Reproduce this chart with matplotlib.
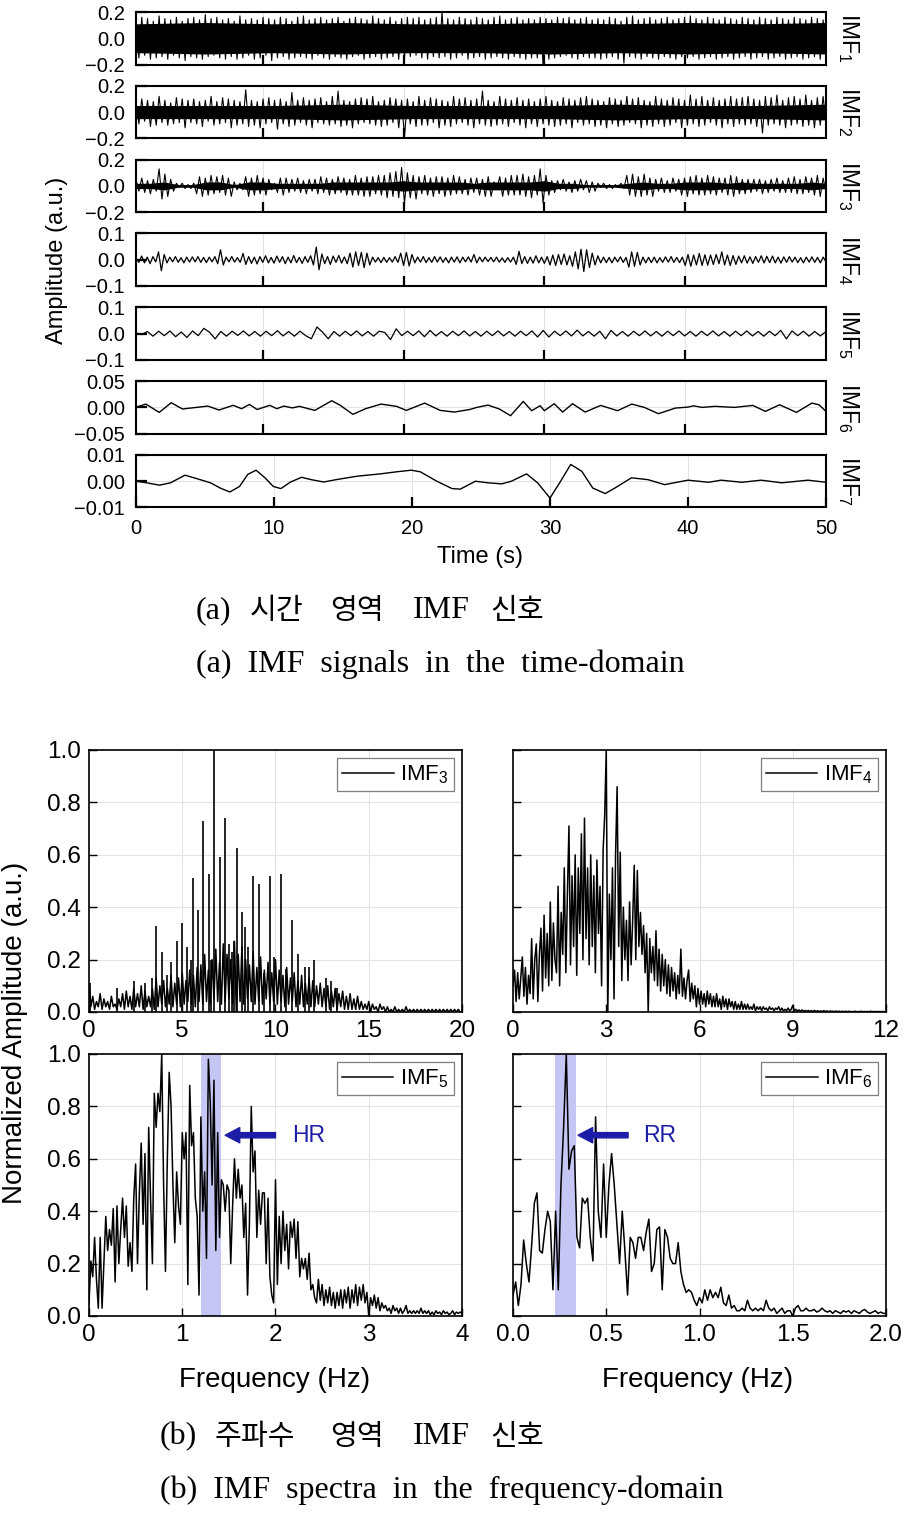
import numpy as np
import matplotlib.pyplot as plt

plt.rcParams['font.family'] = ['Liberation Sans', 'DejaVu Sans']
plt.rcParams['mathtext.fontset'] = 'custom'
plt.rcParams['mathtext.rm'] = 'Liberation Sans'
plt.rcParams['mathtext.it'] = 'Liberation Sans:italic'

W, H = 912, 1513

# ============================================================
# (a) TIME-DOMAIN IMF SIGNALS
# ============================================================
# dense IMFs: solid core half-width + fringe of hairs, both in units of 0.01
imf1_core = [11, 12, 11, 12, 11, 11, 12, 11, 12, 11, 12]
imf1_hair = [
    14, -15, 16, -13, 15, -16, 13, -15, 17, -14, 15, -16, 14, -13, 16, -15, 13, -17, 15, -14,
    16, -15, 14, -16, 18, -14, 15, -13, 16, -15, 14, -16, 15, -14, 13, -16, 17, -15, 14, -13,
    15, -16, 14, -15, 16, -13, 15, -17, 14, -15, 16, -14, 15, -16, 13, -15, 16, -14, 17, -15,
    14, -16, 15, -13, 16, -15, 14, -16, 15, -14, 16, -15, 13, -16, 15, -14, 16, -13, 15, -16,
    14, -15, 17, -14, 15, -16, 14, -15, 16, -14, 13, -16, 15, -15, 16, -14, 15, -13, 16, -15,
    14, -16, 15, -14, 16, -15, 20, -14, 15, -16, 14, -15, 16, -13, 15, -16, 14, -15, 16, -14,
    15, -16, 14, -15, 16, -14, 17, -15, 14, -16, 15, -14, 16, -15, 14, -16, 15, -15, 14, -15,
    16, -20, 15, -16, 14, -15, 16, -14, 15, -13, 16, -15, 14, -16, 15, -14, 16, -15, 14, -15,
    15, -16, 14, -15, 16, -14, 15, -16, 13, -19, 16, -14, 17, -15, 14, -16, 15, -14, 16, -15,
    14, -16, 15, -14, 16, -15, 14, -16, 15, -14, 16, -15, 17, -14, 15, -16, 14, -15, 16, -14,
    15, -16, 14, -15, 16, -14, 15, -16, 14, -15, 16, -14, 15, -16, 14, -15, 16, -14, 15, -16,
    14, -15, 16, -14, 15, -16, 14, -15, 16, -14, 15, -16, 14, -15, 16, -14, 15, -16, 14, -15]

imf2_core = [5, 5, 5, 6, 5, 5, 5, 6, 5, 5, 6]
imf2_hair = [
    8, -9, 10, -7, 9, -11, 8, -10, 12, -8, 9, -10, 7, -9, 11, -8, 10, -12, 9, -8,
    10, -9, 8, -11, 9, -7, 12, -10, 8, -9, 11, -8, 10, -12, 9, -10, 8, -9, 17, -11,
    9, -10, 8, -12, 10, -9, 11, -8, 9, -13, 10, -9, 8, -11, 15, -10, 9, -8, 11, -10,
    9, -12, 10, -8, 11, -9, 8, -10, 12, -9, 16, -11, 9, -10, 8, -12, 10, -9, 11, -8,
    10, -9, 12, -10, 8, -11, 9, -10, 11, -8, 10, -12, 9, -19, 10, -9, 8, -11, 12, -10,
    9, -10, 11, -8, 10, -12, 9, -10, 8, -11, 12, -9, 10, -8, 11, -10, 9, -12, 10, -9,
    16, -10, 9, -11, 8, -10, 12, -9, 10, -11, 9, -8, 11, -10, 9, -12, 10, -9, 8, -11,
    10, -9, 12, -10, 9, -11, 8, -10, 11, -9, 10, -12, 9, -8, 11, -10, 12, -9, 10, -11,
    9, -10, 8, -12, 11, -9, 10, -11, 9, -10, 12, -8, 10, -9, 11, -12, 9, -10, 8, -11,
    12, -9, 10, -11, 9, -10, 11, -8, 10, -12, 9, -10, 13, -9, 10, -11, 12, -10, 9, -8,
    11, -10, 9, -12, 10, -9, 12, -11, 10, -9, 11, -10, 12, -9, 10, -11, 9, -16, 12, -10,
    11, -9, 13, -10, 9, -12, 11, -10, 12, -9, 10, -11, 13, -10, 9, -12, 11, -10, 12, -9]

imf3_core = [2, 2, 3, 1, 1, 3, 3, 1, 3, 3, 2, 2, 2, 2, 3, 3, 3, 3, 3, 4, 3, 3, 3, 3, 2,
             3, 3, 3, 3, 4, 2, 2, 1, 1, 1, 2, 3, 2, 2, 3, 3, 3, 2, 3, 2, 2, 2, 2, 3, 2]
imf3_hair = [
    5, -4, 6, -5, 4, -6, 5, -4, 13, -10, 9, -8, 5, -4, 2, -1, 2, -2, 1, -2,
    2, -6, 7, -8, 6, -7, 8, -6, 7, -5, 8, -7, 6, -8, 3, -3, 2, -3, 7, -8,
    6, -7, 8, -6, 6, -7, 5, -3, 2, -5, 6, -7, 6, -5, 5, -4, 6, -5, 4, -6,
    5, -4, 5, -6, 7, -5, 6, -7, 5, -6, 7, -5, 6, -7, 5, -7, 8, -7, 6, -8,
    7, -8, 7, -6, 8, -7, 8, -9, 10, -8, 11, -9, 14, -13, 10, -9, 8, -10, 7, -6,
    8, -7, 6, -8, 7, -6, 7, -8, 6, -7, 8, -6, 7, -6, 5, -7, 6, -5, 6, -7, 5,
    -8, 7, -8, 3, -2, 7, -8, 6, -7, 8, -7, 8, -7, 9, -8, 7, -9, 8, -7, 13,
    -13, 8, -7, 4, -5, 4, -3, 5, -4, 3, -5, 4, -4, 5, -3, 4, -5, 3, -4, 2,
    -1, 2, -2, 1, -2, 1, -1, 2, -2, 8, -7, 9, -8, 7, -8, 9, -7, 6, -8, 5,
    -4, 6, -5, 4, -5, 6, -4, 5, -7, 6, -8, 7, -6, 8, -7, 6, -7, 8, -6, 7,
    -7, 6, -5, 6, -7, 8, -8, 7, -6, 5, -6, 5, -5, 5, -4, 5, -6, 4, -5, 5,
    -4, 6, -5, 4, -5, 6, -5, 7, -6, 5, -6, 7, -5, 6, -7, 8, -8, 6, -5]

# IMF4 / IMF5: successive extrema, units of 0.001
imf4_ext = [
    8, -10, 14, -12, 10, -15, 12, -8, 30, -42,
    20, -12, 10, -8, 12, -10, 8, -12, 10, -9, 11, -8, 12, -10, 9, -11, 10, -8, 12,
    -15, 38, -20, 10, -8, 12, -9, 8, -10, 24, -18,
    12, -14, 10, -16, 12, -10, 15, -12, 9, -13, 14, -10, 12, -15, 10, -12, 16, -11, 9, -14, 12, -10, 15,
    -20, 48, -38, 22, -15, 12, -18, 14, -10, 16, -13, 11, -15,
    25, -28, 30, -22, 28, -30, 25, -20, 10, -9, 8, -11, 9, -10, 8, -9, 12, -10,
    25, -22, 28, -24, 20,
    -12, 10, -9, 12, -11, 8, -10, 12, -9, 11, -10, 8, -12, 10, -9, 11, -12, 10, -8, 11, -9, 20, -12, 10,
    -8, 10, -7, 9, -8, 10, -9, 7, -10, 8, -9, 10, -18, 32,
    -15, 12, -14, 10, -13, 15, -12, 10, -14, 12, -20, 18, -22, 20, -18, 22, -20,
    15, -25, 30, -35, 40, -45, 38, -30, 25, -20, 15,
    -12, 10, -11, 9, -12, 10, -8, 11, -10, 9, -28, 30, -25, 28, -20,
    10, -12, 9, -11, 10, -12, 8, -10, 11, -9, 12, -10, 9, -11, 10,
    -22, 20, -25, 18, -20, 24, -22, 19, -21, 18, -18, 20, -15, 30, -20, 18, -22, 16, -18,
    14, -12, 15, -13, 11, -14, 12, -10, 15, -12, 13, -11, 14, -12, 10, -13,
    11, -10, 12, -9, 10, -11, 8, -12, 10, -9, 11, -10, 9, -12, 10, -8]

imf5_ext = [
    3, -4, 8, -10, 9, -8, 10, -12, 6, -15, 10, -8, 20, 5, -20,
    8, -10, 9, -7, 10, -9, 8, -10, 9, -8, 11, -9, 8, -10, 9, -8,
    -20, 25, 5, -20, 8, -10, 9, -8, 10, -9, 8, -10, 9, 4, -23, 18, -8,
    9, -8, 10, -12, 12, -9, 8, -10, 9, -8,
    10, -9, 8, -10, 9, -8, 10, -9, 8, -10, 9, -8, 10, -13, 12, -13,
    9, -8, 10, -9, 13, -9, 8, -10, 9, -20, 12,
    -9, 8, -10, 9, -8, 10, -9, 8, -10, 9, -8, 10, -9, 8, -10, 9, -8, 10, -9, 8,
    -10, 9, -8, 10, -9, 8, -10, 9, -8, 12, -20, 10, -8, 9, -10, 8, -9, 8]

# IMF6 / IMF7: read points (time s, value in units of 1e-4)
imf6_t = [0.95, 1.7, 2.65, 3.5, 4.3, 5.3, 6.1, 6.9, 7.9, 8.5, 9.05, 9.6, 10.5, 11.0, 11.5,
          12.1, 12.6, 13.7, 14.9, 15.5, 16.4, 17.3, 18.4, 19.5, 20.2, 21.5, 22.6, 23.6, 24.7,
          25.2, 26.0, 26.8, 27.6, 28.5, 29.1, 29.7, 30.0, 30.7, 31.3, 32.0, 32.9, 34.0, 35.2,
          36.2, 37.1, 38.1, 39.3, 40.2, 40.6, 41.2, 42.1, 43.5, 44.8, 45.7, 46.7, 47.9, 49.0,
          49.5, 50.0]
imf6_v = [0, 63, -95, 89, -30, 0, 25, -50, 40, -25, 57, -40, 40, -25, 25,
          -10, 20, -57, 127, 40, -133, -25, 63, 20, -57, 82, -57, -89, -40,
          0, 44, -30, -158, 114, -63, 32, -63, 70, -89, 70, -89, 38, -63,
          63, 0, -120, -13, 6, 30, 0, 20, 0, 38, -76, 50, -95, 82,
          50, -76]

imf7_t = [0, 0.77, 1.7, 2.5, 3.55, 4.4, 5.4, 6.1, 6.8, 7.5, 8.1, 8.7, 9.35, 9.95, 10.5,
          11.2, 12.0, 12.7, 13.6, 14.5, 16.0, 17.7, 18.9, 19.95, 20.6, 21.8, 22.9, 23.5,
          24.6, 25.5, 26.5, 27.2, 28.3, 29.1, 30.0, 30.7, 31.5, 32.3, 33.1, 34.0, 34.7,
          35.9, 37.1, 38.3, 40.0, 41.5, 42.4, 43.9, 45.3, 46.8, 48.7, 50.0]
imf7_v = [0, -6, -15, -6, 23, 10, -6, -26, -41, -20, 26, 42, 13, -20, -28,
          -3, 15, 6, -3, 6, 19, 28, 36, 42, 36, 0, -28, -30,
          0, -6, -10, 0, 28, -6, -64, -6, 64, 38, -26, -47, -26,
          13, 6, -13, 4, -4, 4, -4, 4, -6, 4, -4]

imf_lim = [0.2, 0.2, 0.2, 0.1, 0.1, 0.05, 0.01]
imf_ylabels = [['\u22120.2', '0.0', '0.2'], ['\u22120.2', '0.0', '0.2'], ['\u22120.2', '0.0', '0.2'],
               ['\u22120.1', '0.0', '0.1'], ['\u22120.1', '0.0', '0.1'],
               ['\u22120.05', '0.00', '0.05'], ['\u22120.01', '0.00', '0.01']]
time_ticks = [0, 10, 20, 30, 40, 50]

# ============================================================
# (b) FREQUENCY-DOMAIN SPECTRA  (normalized, units of 0.01)
# ============================================================
# IMF3: noise floor sampled every 0.1 Hz (0-20 Hz) + sharp lines
imf3_floor = [
    11, 2, 6, 1, 4, 2, 7, 1, 5, 2, 4, 1, 6, 2, 3, 1, 5, 2, 7, 1,
    8, 2, 6, 1, 9, 2, 7, 2, 10, 1, 8, 2, 6, 2, 9, 1, 13, 2, 10, 3,
    12, 2, 9, 3, 14, 2, 11, 3, 13, 2, 15, 3, 12, 4, 16, 3, 14, 2, 17, 4,
    18, 3, 22, 4, 16, 3, 20, 5, 24, 4, 19, 3, 26, 4, 22, 5, 20, 3, 27, 0,
    22, 4, 25, 3, 20, 5, 18, 4, 23, 3, 17, 4, 21, 3, 16, 5, 19, 3, 15, 4,
    20, 3, 16, 4, 14, 2, 17, 3, 13, 4, 15, 2, 12, 3, 14, 2, 11, 3, 13, 2,
    12, 2, 10, 3, 11, 2, 9, 2, 10, 1, 8, 2, 9, 1, 7, 2, 8, 1, 6, 1,
    7, 1, 5, 1, 6, 1, 4, 1, 3, 1, 4, 0, 3, 1, 2, 0, 3, 1, 2, 0,
    2, 0, 1, 0, 2, 0, 1, 0, 1, 0, 2, 0, 1, 0, 1, 0, 1, 0, 1, 0,
    1, 0, 1, 0, 1, 0, 1, 0, 1, 0, 1, 0, 1, 0, 1, 0, 1, 0, 1, 0, 0]
imf3_line_f = [0.03, 1.5, 2.4, 3.0, 3.4, 3.6, 3.9, 4.2, 4.4, 4.7, 5.0, 5.27, 5.45, 5.6, 5.84,
               6.13, 6.41, 6.55, 6.7, 7.0, 7.3, 7.5, 7.66, 7.8, 7.91, 8.21, 8.38, 8.5, 8.8,
               9.09, 9.4, 9.68, 9.9, 10.27, 10.55, 10.87, 11.2, 11.6, 11.8, 12.05, 12.7,
               13.0, 13.3]
imf3_line_h = [11, 9, 12, 11, 13, 33, 23, 14, 19, 27, 34, 25, 20, 51, 39,
               73, 52.5, 20, 100, 59, 74, 26, 23, 27, 62.5, 38, 32.5, 25, 52,
               49, 15, 52, 21, 52.5, 16.5, 35, 22, 17, 17, 20, 13,
               12, 9]

# IMF4: every 0.05 Hz, 0-12 Hz
imf4_spec = [
    10, 16, 4, 15, 5, 13, 21, 6, 17, 3, 14, 7, 28, 5, 20, 26, 4, 22, 32, 8,
    37, 13, 30, 10, 42, 12, 34, 20, 15, 48, 10, 38, 22, 55, 15, 45, 71, 18, 52, 25,
    60, 14, 55, 30, 68, 20, 74, 28, 55, 18, 60, 25, 52, 15, 58, 30, 48, 10, 62, 75,
    100, 0, 45, 20, 55, 5, 60, 86, 25, 61, 12, 40, 20, 35, 12, 42, 18, 35, 56, 20,
    54, 25, 38, 22, 33, 15, 30, 0, 28, 15, 25, 12, 31, 10, 24, 8, 22, 10, 20, 7,
    18, 6, 17, 8, 15, 5, 14, 7, 24, 6, 13, 5, 12, 16, 4, 11, 5, 10, 2, 9,
    3, 8, 3, 7, 2, 8, 3, 7, 2, 6, 2, 7, 2, 5, 1, 6, 2, 5, 1, 5,
    2, 4, 1, 4, 1, 3, 1, 4, 1, 3, 1, 3, 1, 2, 1, 3, 0.5, 2, 1, 2,
    0.5, 2, 1, 1.5, 0.5, 2, 1, 1.5, 0.5, 1.5, 1, 2, 0.5, 1.5, 0.5, 1, 0.5, 1.5, 0.5, 1,
    2.5, 0.5, 1, 0.3, 0.8, 0.3, 0.8, 0.3, 0.6, 0.2, 0.6, 0.2, 0.5, 0.2, 0.6, 0.2, 0.5, 0.2, 0.4, 0.2,
    0.5, 0.2, 0.4, 0.1, 0.4, 0.2, 0.3, 0.1, 0.4, 0.1, 0.3, 0.1, 0.3, 0.1, 0.3, 0.1, 0.3, 0.1, 0.2, 0.1,
    0.3, 0.1, 0.2, 0.1, 0.3, 0.1, 0.2, 0.1, 0.2, 0.1, 0.3, 0.1, 0.2, 0.1, 0.2, 0.1, 0.2, 0.1, 0.2, 0.1, 0.2]

# IMF5: every 0.02 Hz, 0-4 Hz
imf5_spec = [
    5, 21, 15, 30, 14, 3, 30, 3, 20, 38, 25, 33, 27, 41, 13, 42, 20, 33, 45, 30,
    42, 19, 28, 17, 45, 58, 20, 47, 66, 35, 62, 10, 72, 45, 20, 85, 72, 85, 78, 100,
    50, 17, 60, 93, 80, 50, 28, 55, 42, 35, 70, 60, 70, 12, 88, 65, 70, 45, 38, 8,
    76, 40, 55, 22, 98, 82, 50, 90, 25, 70, 30, 52, 50, 40, 50, 48, 20, 42, 60, 45,
    56, 45, 50, 30, 43, 8, 35, 80, 55, 63, 30, 48, 35, 47, 47, 20, 45, 15, 8, 5,
    52, 12, 38, 20, 40, 25, 35, 18, 36, 30, 37, 22, 36, 15, 22, 18, 22, 14, 24, 10,
    12, 7, 5, 14, 6, 12, 4, 10, 5, 11, 4, 9, 3, 9, 4, 10, 3, 10, 5, 11,
    3, 10, 5, 12, 4, 11, 6, 12, 5, 9, 0, 7, 4, 8, 3, 7, 2, 5, 3, 4,
    2, 3, 1, 4, 2, 3, 1, 3, 1, 2, 4, 1, 2, 1, 2, 1, 2, 1, 3, 1,
    2, 1, 2, 0.5, 1.5, 0.5, 2, 1, 1.5, 0.5, 2, 1, 1.5, 0.5, 1, 2, 0.5, 1.5, 1, 1.5, 1]

# IMF6: every 1/70 Hz, 0-2 Hz
imf6_spec = [
    8, 13, 4, 12, 29, 20, 13, 27, 43, 47, 25, 24, 33, 40, 36, 10, 40, 10, 50, 72,
    100, 56, 63, 65, 30, 26, 45, 43, 45, 30, 21, 76, 40, 30, 58, 30, 50, 62, 50, 35,
    20, 40, 25, 8, 30, 28, 22, 30, 30, 25, 32, 37, 17, 20, 33, 34, 10, 33, 30, 22,
    20, 20, 28, 17, 12, 9, 10, 9, 6, 4, 7, 5, 10, 6, 10, 7, 9, 7, 11, 5,
    4, 8, 3, 4, 2, 2, 3, 2, 6, 3, 2, 3, 2, 3, 2, 6, 3, 2, 3, 1,
    2, 3, 1, 2, 2, 0, 3, 4, 2, 2, 3, 2, 2, 2.5, 1.5, 2, 3, 2, 1.5, 2,
    1, 2, 1.5, 1, 2, 1.5, 2, 1, 2, 1.5, 1, 2, 2.5, 1.5, 1, 1.5, 2, 1, 1.5, 1, 1]

spec_names = ['IMF$_3$', 'IMF$_4$', 'IMF$_5$', 'IMF$_6$']
spec_fmax = [20, 12, 4, 2]
spec_xticks = [[0, 5, 10, 15, 20], [0, 3, 6, 9, 12], [0, 1, 2, 3, 4], [0, 0.5, 1.0, 1.5, 2.0]]
spec_xlabels = [['0', '5', '10', '15', '20'], ['0', '3', '6', '9', '12'],
                ['0', '1', '2', '3', '4'], ['0.0', '0.5', '1.0', '1.5', '2.0']]
amp_ticks = [0, 0.2, 0.4, 0.6, 0.8, 1.0]
amp_labels = ['0.0', '0.2', '0.4', '0.6', '0.8', '1.0']
hr_band = (1.2, 1.415)
rr_band = (0.2235, 0.336)

navy = '#1c1ca6'
band_c = '#c6c6f4'
grid_c = '#e3e3e3'

fig = plt.figure(figsize=(W / 100, H / 100), dpi=100)

# ------------------------------------------------------------
# time-domain stack
# ------------------------------------------------------------
for i in range(7):
    top = 12 + 73.83 * i
    ax = fig.add_axes([136 / W, 1 - (top + 52.5) / H, 690 / W, 52.5 / H])
    lim = imf_lim[i]
    if i < 6:
        ax.set_xlim(1, 50)
        ax.set_xticks([10, 20, 30, 40])
        ax.set_xticklabels([])
    else:
        ax.set_xlim(0, 50)
        ax.set_xticks(time_ticks)
    ax.set_ylim(-lim, lim)
    ax.set_yticks([-lim, 0, lim])
    ax.set_yticklabels(imf_ylabels[i])
    ax.tick_params(axis='x', direction='in', length=7, width=1.6, labelsize=14.5, pad=8,
                   top=False)
    ax.tick_params(axis='y', direction='in', length=8, width=1.6, labelsize=14.5, pad=8,
                   right=False)
    ax.grid(True, color=grid_c, lw=0.8)
    ax.set_axisbelow(True)
    for s in ax.spines.values():
        s.set_linewidth(1.5)
    ax.text(1.033, 0.5, 'IMF$_{%d}$' % (i + 1), transform=ax.transAxes, rotation=270,
            ha='center', va='center', fontsize=16.5)

    if i in (0, 1, 2):
        core = [imf1_core, imf2_core, imf3_core][i]
        hair = [imf1_hair, imf2_hair, imf3_hair][i]
        tc = np.linspace(1, 50, len(core))
        c = np.asarray(core) * 0.01
        ax.fill_between(tc, -c, c, color='k', lw=0)
        ax.plot(np.linspace(1, 50, len(hair)), np.asarray(hair) * 0.01, color='k', lw=0.8)
    elif i == 3:
        ax.plot(np.linspace(1, 50, len(imf4_ext)), np.asarray(imf4_ext) * 0.001, color='k', lw=0.9)
    elif i == 4:
        ax.plot(np.linspace(1, 50, len(imf5_ext)), np.asarray(imf5_ext) * 0.001, color='k', lw=0.9)
    elif i == 5:
        ax.plot(imf6_t, np.asarray(imf6_v) * 1e-4, color='k', lw=1.0)
    else:
        ax.plot(imf7_t, np.asarray(imf7_v) * 1e-4, color='k', lw=1.0)

fig.text(57 / W, 1 - 260 / H, 'Amplitude (a.u.)', rotation=90, ha='center', va='center',
         fontsize=17)
fig.text(480 / W, 1 - 557 / H, 'Time (s)', ha='center', va='center', fontsize=17)

# ------------------------------------------------------------
# spectra 2x2
# ------------------------------------------------------------
boxes = [(89, 1012), (513, 1012), (89, 1316), (513, 1316)]
series = [imf3_floor, imf4_spec, imf5_spec, imf6_spec]
for k in range(4):
    x0, yb = boxes[k]
    ax = fig.add_axes([x0 / W, 1 - yb / H, 373 / W, 262 / H])
    f = np.linspace(0, spec_fmax[k], len(series[k]))
    ax.plot(f, np.asarray(series[k]) * 0.01, color='k', lw=1.1, label=spec_names[k])
    if k == 0:
        ax.vlines(imf3_line_f, 0, np.asarray(imf3_line_h) * 0.01, color='k', lw=1.2)
    ax.set_xlim(0, spec_fmax[k])
    ax.set_ylim(0, 1.0)
    ax.set_xticks(spec_xticks[k])
    ax.set_xticklabels(spec_xlabels[k])
    ax.set_yticks(amp_ticks)
    if k in (0, 2):
        ax.set_yticklabels(amp_labels)
    else:
        ax.set_yticklabels([])
    ax.tick_params(direction='in', length=6, width=1.0, labelsize=17.5, top=False, right=False)
    ax.tick_params(axis='x', pad=6)
    ax.tick_params(axis='y', pad=6)
    ax.grid(True, color=grid_c, lw=0.8)
    ax.set_axisbelow(True)
    for s in ax.spines.values():
        s.set_linewidth(1.2)
    leg = ax.legend(loc='upper right', fontsize=16, handlelength=2.3, handletextpad=0.3,
                    borderpad=0.25, borderaxespad=0.35, fancybox=False, framealpha=1)
    leg.get_frame().set_edgecolor('#7f7f7f')
    leg.get_frame().set_linewidth(0.9)

    if k == 2:
        ax.axvspan(*hr_band, color=band_c, lw=0, zorder=0.8)
        ax.annotate('', xy=(1.46, 0.69), xytext=(2.0, 0.69),
                    arrowprops=dict(facecolor=navy, edgecolor=navy, width=3.8,
                                    headwidth=11, headlength=10.5, shrink=0))
        ax.text(2.18, 0.69, 'HR', color=navy, fontsize=16.5, ha='left', va='center')
    if k == 3:
        ax.axvspan(*rr_band, color=band_c, lw=0, zorder=0.8)
        ax.annotate('', xy=(0.349, 0.69), xytext=(0.617, 0.69),
                    arrowprops=dict(facecolor=navy, edgecolor=navy, width=3.8,
                                    headwidth=11, headlength=10.5, shrink=0))
        ax.text(0.697, 0.69, 'RR', color=navy, fontsize=16.5, ha='left', va='center')

fig.text(15 / W, 1 - 1033 / H, 'Normalized Amplitude (a.u.)', rotation=90, ha='center',
         va='center', fontsize=20)
fig.text(275 / W, 1 - 1380 / H, 'Frequency (Hz)', ha='center', va='center', fontsize=20)
fig.text(698 / W, 1 - 1380 / H, 'Frequency (Hz)', ha='center', va='center', fontsize=20)

# ------------------------------------------------------------
# captions
# ------------------------------------------------------------
serif = ['Liberation Serif', 'Noto Sans CJK KR']
kr = ['Noto Sans CJK KR', 'Liberation Serif']
captions_kr = [
    (611, [(196, '(a)', serif), (250, '시간', kr), (330, '영역', kr), (413, 'IMF', serif),
           (490, '신호', kr)]),
    (1437, [(160, '(b)', serif), (215, '주파수', kr), (330, '영역', kr), (413, 'IMF', serif),
            (490, '신호', kr)]),
]
for yc, words in captions_kr:
    for xw, word, fam in words:
        fs = 21 if fam is kr else 23
        fig.text(xw / W, 1 - yc / H, word, ha='left', va='center', fontsize=fs, family=fam)

captions_en = [(664, 196, '(a)  IMF  signals  in  the  time-domain'),
               (1490, 160, '(b)  IMF  spectra  in  the  frequency-domain')]
for yc, xw, line in captions_en:
    fig.text(xw / W, 1 - yc / H, line, ha='left', va='center', fontsize=23, family=serif)

fig.savefig('out.png', dpi=100)
